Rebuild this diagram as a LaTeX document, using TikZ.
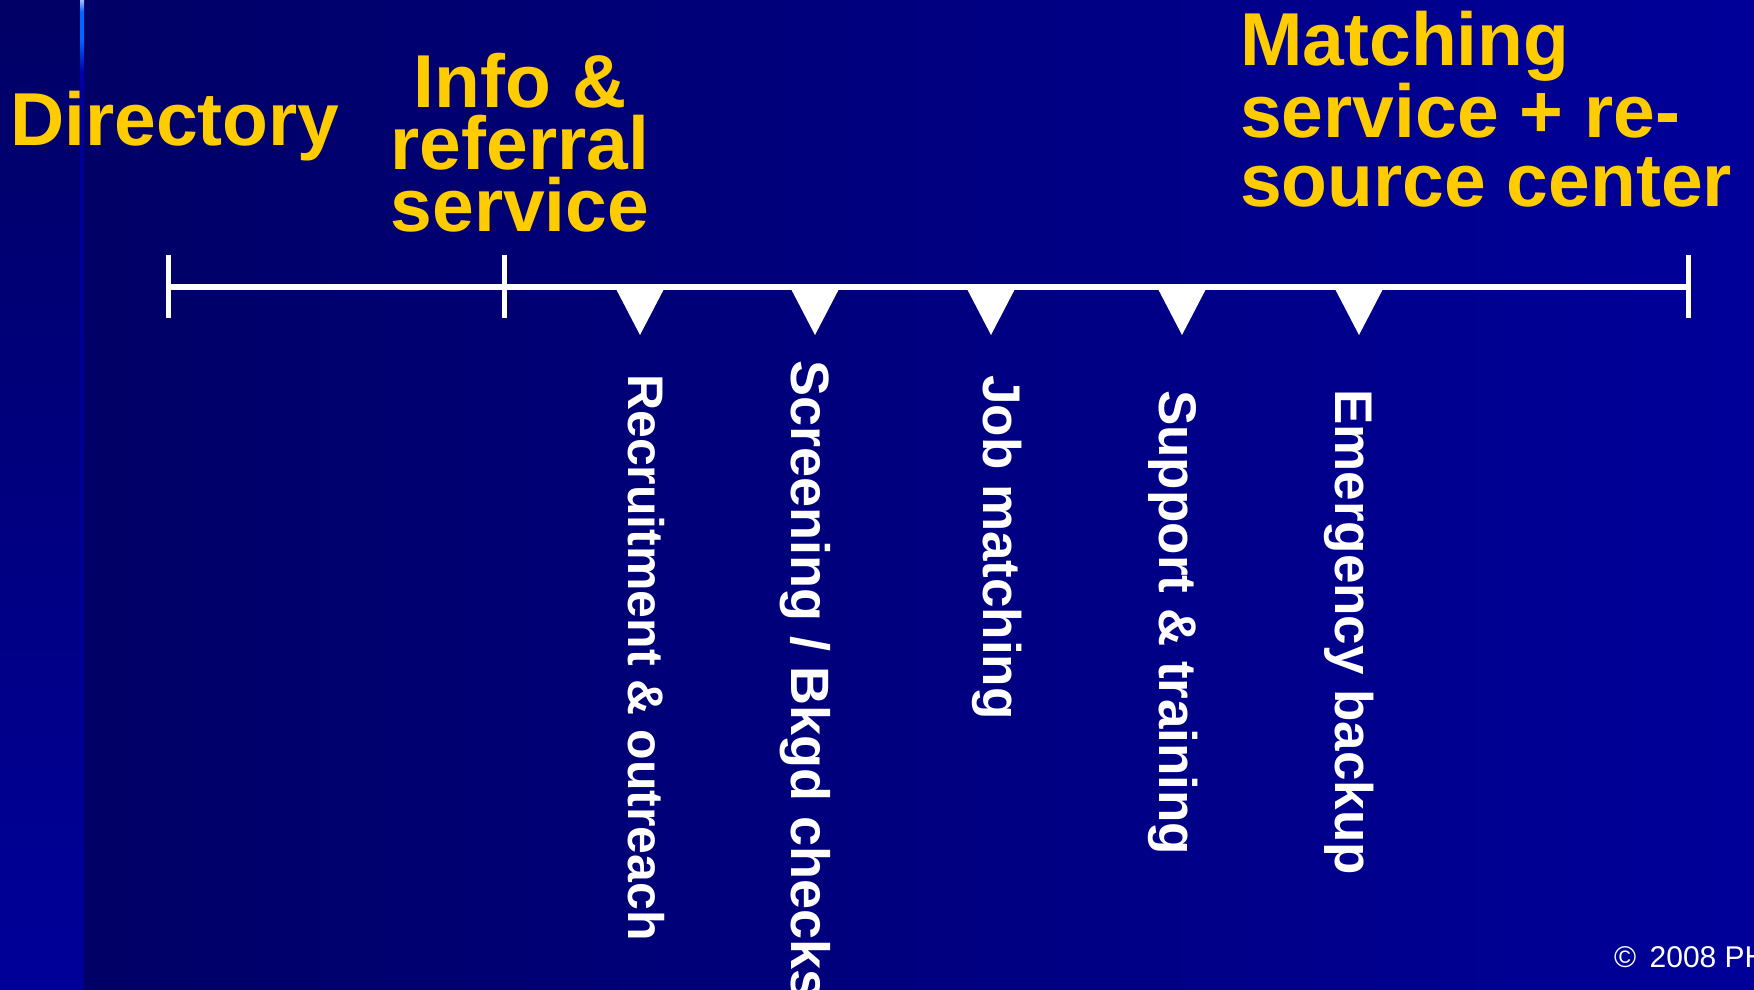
\documentclass[tikz,border=0pt]{standalone}
\usepackage{fontspec}
\setmainfont{Liberation Sans}
\definecolor{navyL}{HTML}{000066}
\definecolor{navyR}{HTML}{000099}
\definecolor{glowTop}{HTML}{A8B8FF}
\definecolor{glowMid}{HTML}{0066FF}
\definecolor{glowLow}{HTML}{0000B0}
\definecolor{titleyellow}{HTML}{FFCC00}
% bottom of the path at 25bp, top at 75bp
\pgfdeclareverticalshading{edgeglow}{100bp}{color(0bp)=(navyR); color(25bp)=(navyR); color(55bp)=(navyR!90!navyL); color(69.4bp)=(navyR!95!glowLow); color(71.4bp)=(glowLow); color(73bp)=(glowMid); color(74.4bp)=(glowMid); color(75bp)=(glowTop); color(100bp)=(glowTop)}
\tikzset{
  stage/.style={text=titleyellow, inner sep=0pt, font=\fontsize{75}{62}\selectfont\bfseries},
  func/.style={text=white, rotate=-90, anchor=base west, inner sep=0pt, font=\fontsize{53}{60}\selectfont\bfseries},
  tick/.style={draw=white, line width=5pt},
  pointer/.style={fill=white}
}
\begin{document}
\begin{tikzpicture}[x=1pt,y=1pt]
        \useasboundingbox (0,0) rectangle (1754,990);
        % background
        \shade[left color=navyL, right color=navyR] (80,0) rectangle (1754,990);
        \shade[top color=navyL, bottom color=navyR] (0,0) rectangle (80,990);
        \shade[shading=edgeglow] (80,0) rectangle (84,990);
        % stages
        \node(S1) [stage, anchor=base west] at (10,844) {Directory};
        \node(S2) [stage, anchor=south, align=center] at (520,758) {Info \&\\referral\\service};
        \node(S3) [stage, anchor=south west, align=left, font=\fontsize{75}{69}\selectfont\bfseries] at (1240,783) {Matching\\service + re-\\source center};
        % timeline
        \coordinate(T0) at (168,703);
        \coordinate(T1) at (504,703);
        \coordinate(T2) at (1688,703);
        \draw[white, line width=6pt] (T0) -- (T2);
        \foreach \t in {T0,T1,T2}
            \draw[tick] ([yshift=32pt]\t) -- ([yshift=-31pt]\t);
        \foreach \x in {640,815,991,1182,1359}
            \fill[pointer] (\x-25,703) -- (\x+25,703) -- (\x,655) -- cycle;
        % functions
        \node(F1) [func, font=\fontsize{50}{60}\selectfont\bfseries] at (628,616) {Recruitment \& outreach};
        \node(F2) [func, font=\fontsize{54}{60}\selectfont\bfseries] at (791,630) {Screening / Bkgd checks};
        \node(F3) [func] at (983,615) {Job matching};
        \node(F4) [func] at (1159,600) {Support \& training};
        \node(F5) [func] at (1335,601) {Emergency backup};
        \node(C) [text=white, anchor=base west, inner sep=0pt, font=\fontsize{30}{36}\selectfont] at (1614,22) {©\, 2008 PH};
    \end{tikzpicture}
\end{document}
